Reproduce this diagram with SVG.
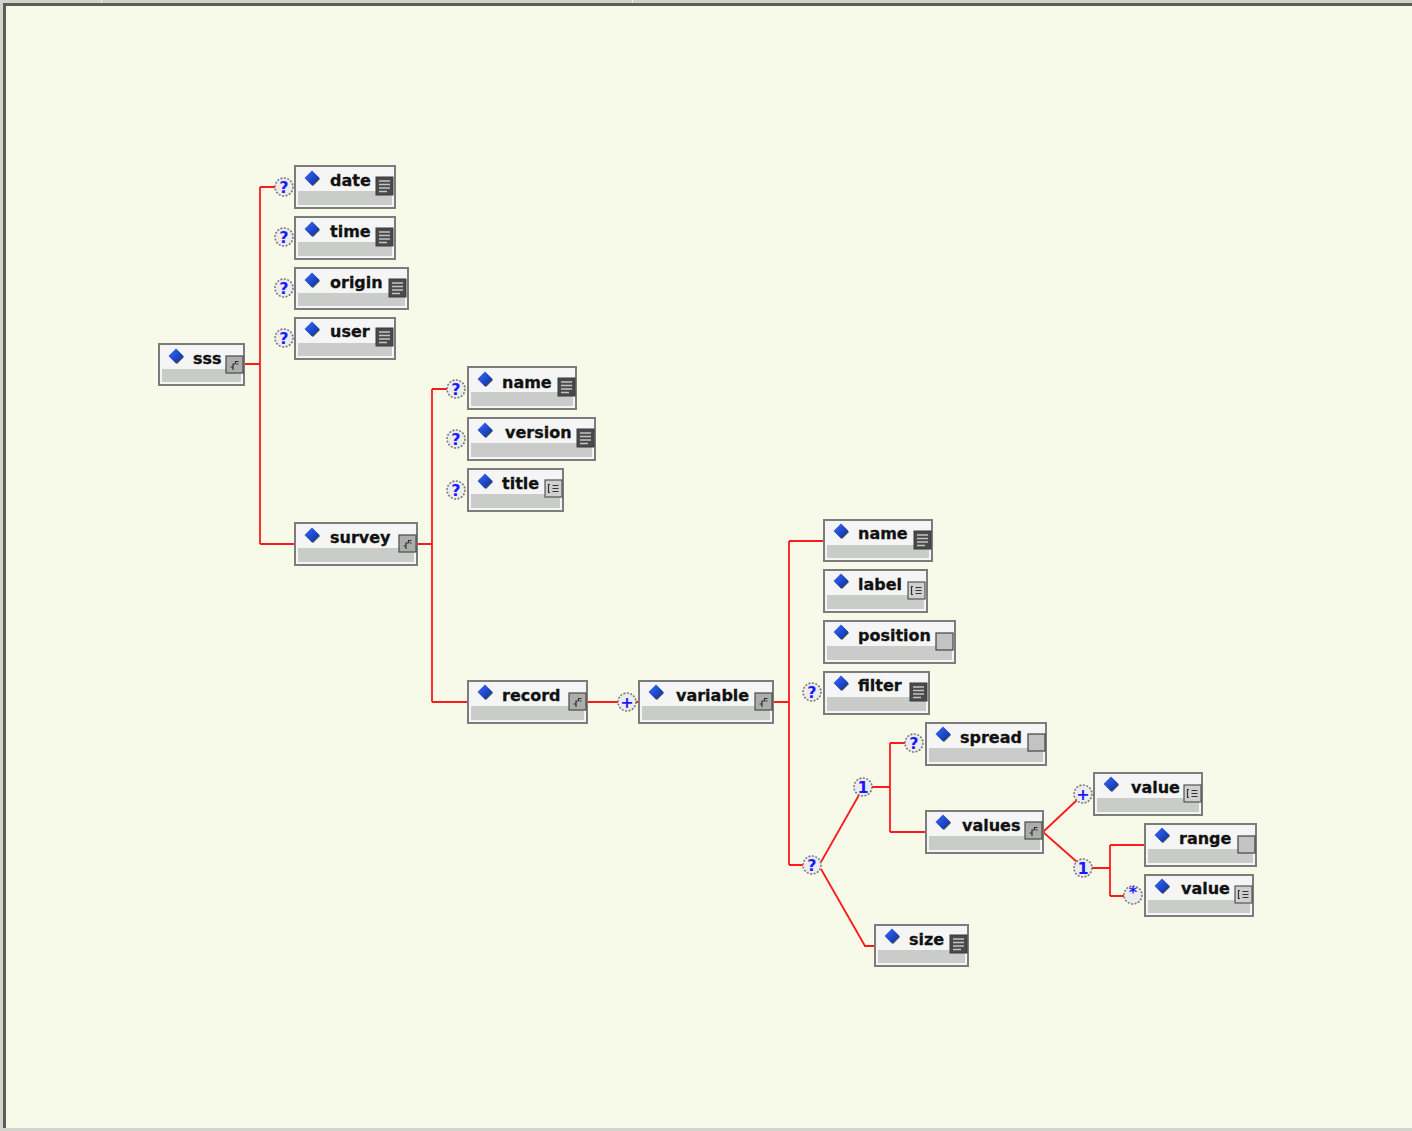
<svg xmlns="http://www.w3.org/2000/svg" width="1412" height="1131" viewBox="0 0 1412 1131">
  <style>
    .frame { fill: #d2d3cc; }
    .canvas { fill: #f8fae9; }
    .edge { fill: none; stroke: #ff1a1a; stroke-width: 1.8; }
    .box { fill: #f4f5f4; stroke: #7b7c7b; stroke-width: 2; }
    .band { fill: #c9ccc9; }
    .lbl { font-family: "DejaVu Sans", "Liberation Sans", sans-serif; font-weight: bold; font-size: 16px; fill: #111; stroke: #111; stroke-width: 0.3; }
    .occ { fill: #ececec; stroke: #7a7a7a; stroke-width: 1.6; stroke-dasharray: 2 1.5; }
    .occt { font-family: "DejaVu Sans", "Liberation Sans", sans-serif; font-weight: bold; font-size: 16px; fill: #1a1aff; text-anchor: middle; }
  </style>
  <defs>
    <linearGradient id="gem" x1="0" y1="0" x2="1" y2="1">
      <stop offset="0" stop-color="#3a6cff"/>
      <stop offset="1" stop-color="#0a2a9a"/>
    </linearGradient>
    <!-- element marker: blue diamond with dark drop shadow -->
    <g id="diamond">
      <path d="M1 -6 L8 1 L1 8 L-6 1 Z" fill="#1b2a1b" opacity="0.8"/>
      <path d="M0 -7.5 L7.5 0 L0 7.5 L-7.5 0 Z" fill="url(#gem)"/>
    </g>
    <!-- simple-content type icon -->
    <g id="ico-simple">
      <rect x="0" y="0" width="17" height="18" fill="#4a4a4a" stroke="#3a3a3a" stroke-width="1"/>
      <path d="M3 4 H14 M3 7.5 H14 M3 11 H14 M3 14.5 H11" stroke="#c4c4c4" stroke-width="1.4"/>
    </g>
    <!-- complex-content (sequence) icon -->
    <g id="ico-complex">
      <rect x="0" y="0" width="17" height="17" fill="#acaeac" stroke="#4a4a4a" stroke-width="1.2"/>
      <path d="M7 14 V8 H9.5 M7 11 H4.5 M9.5 8 V5.5 H12.5" fill="none" stroke="#2e2e2e" stroke-width="1.2"/>
      <path d="M10.5 8 H12.5" stroke="#2e2e2e" stroke-width="1"/>
    </g>
    <!-- list/attribute icon -->
    <g id="ico-list">
      <rect x="0" y="0" width="17" height="17" fill="#cfd0cf" stroke="#555" stroke-width="1.2"/>
      <path d="M5 4.5 H3.5 V12.5 H5" fill="none" stroke="#333" stroke-width="1.2"/>
      <path d="M7.5 5.5 H13.5 M7.5 8.5 H13.5 M7.5 11.5 H13.5" stroke="#333" stroke-width="1.1"/>
    </g>
    <!-- empty-content icon -->
    <g id="ico-empty">
      <rect x="0" y="0" width="17" height="17" fill="#c2c3c2" stroke="#4e4e4e" stroke-width="1.3"/>
    </g>
  </defs>

  <!-- window frame and canvas -->
  <rect class="frame" x="0" y="0" width="1412" height="1131"/>
  <rect class="canvas" x="6" y="6" width="1406" height="1122"/>
  <rect x="3" y="3" width="1409" height="3" fill="#5c5c5a"/>
  <rect x="3" y="3" width="3" height="1125" fill="#5c5c5a"/>
  <rect x="101" y="0" width="1" height="3" fill="#f2f2ee"/>
  <rect x="632" y="0" width="1" height="3" fill="#f2f2ee"/>

  <!-- connectors -->
  <g id="connectors">
    <path class="edge" d="M244 364 H260 M260 187 V544 M260 187 H275 M260 544 H295"/>
    <path class="edge" d="M417 544 H432 M432 389 V702 M432 389 H447 M432 702 H468"/>
    <path class="edge" d="M587 702 H618 M636 702 H639"/>
    <path class="edge" d="M773 702 H789 M789 541 V865 M789 541 H824 M789 865 H803"/>
    <path class="edge" d="M821 862 L859 795 M821 869 L865 946 H875"/>
    <path class="edge" d="M872 787 H890 M890 743 V832 M890 743 H905 M890 832 H926"/>
    <path class="edge" d="M1043 832 L1077 800 M1043 832 L1077 862"/>
    <path class="edge" d="M1092 868 H1110 M1110 845 V896 M1110 845 H1145 M1110 896 H1124"/>
  </g>

  <!-- occurrence indicators -->
  <g id="occurrences">
    <g><circle class="occ" cx="284" cy="187" r="9"/><text class="occt" x="284" y="193">?</text></g>
    <g><circle class="occ" cx="284" cy="237" r="9"/><text class="occt" x="284" y="243">?</text></g>
    <g><circle class="occ" cx="284" cy="288" r="9"/><text class="occt" x="284" y="294">?</text></g>
    <g><circle class="occ" cx="284" cy="338" r="9"/><text class="occt" x="284" y="344">?</text></g>
    <g><circle class="occ" cx="456" cy="389" r="9"/><text class="occt" x="456" y="395">?</text></g>
    <g><circle class="occ" cx="456" cy="439" r="9"/><text class="occt" x="456" y="445">?</text></g>
    <g><circle class="occ" cx="456" cy="490" r="9"/><text class="occt" x="456" y="496">?</text></g>
    <g><circle class="occ" cx="627" cy="702" r="9"/><text class="occt" x="627" y="708">+</text></g>
    <g><circle class="occ" cx="812" cy="692" r="9"/><text class="occt" x="812" y="698">?</text></g>
    <g><circle class="occ" cx="812" cy="865" r="9"/><text class="occt" x="812" y="871">?</text></g>
    <g><circle class="occ" cx="863" cy="787" r="9"/><text class="occt" x="863" y="793">1</text></g>
    <g><circle class="occ" cx="914" cy="743" r="9"/><text class="occt" x="914" y="749">?</text></g>
    <g><circle class="occ" cx="1083" cy="794" r="9"/><text class="occt" x="1083" y="800">+</text></g>
    <g><circle class="occ" cx="1083" cy="868" r="9"/><text class="occt" x="1083" y="874">1</text></g>
    <g><circle class="occ" cx="1133" cy="895" r="9"/><text class="occt" x="1133" y="898">*</text></g>
  </g>

  <!-- element nodes -->
  <g id="node-sss">
    <rect class="box" x="159" y="344" width="85" height="41"/><rect class="band" x="162" y="369" width="79" height="13"/>
    <use href="#diamond" x="176" y="356"/><text class="lbl" x="193" y="364">sss</text>
    <use href="#ico-complex" x="226" y="356"/>
  </g>
  <g id="node-date">
    <rect class="box" x="295" y="166" width="100" height="42"/><rect class="band" x="298" y="191" width="94" height="14"/>
    <use href="#diamond" x="312" y="178"/><text class="lbl" x="330" y="186">date</text>
    <use href="#ico-simple" x="376" y="177"/>
  </g>
  <g id="node-time">
    <rect class="box" x="295" y="217" width="100" height="42"/><rect class="band" x="298" y="242" width="94" height="14"/>
    <use href="#diamond" x="312" y="229"/><text class="lbl" x="330" y="237">time</text>
    <use href="#ico-simple" x="376" y="228"/>
  </g>
  <g id="node-origin">
    <rect class="box" x="295" y="268" width="113" height="41"/><rect class="band" x="298" y="293" width="107" height="13"/>
    <use href="#diamond" x="312" y="280"/><text class="lbl" x="330" y="288">origin</text>
    <use href="#ico-simple" x="389" y="279"/>
  </g>
  <g id="node-user">
    <rect class="box" x="295" y="318" width="100" height="41"/><rect class="band" x="298" y="343" width="94" height="13"/>
    <use href="#diamond" x="312" y="329"/><text class="lbl" x="330" y="337">user</text>
    <use href="#ico-simple" x="376" y="328"/>
  </g>
  <g id="node-survey">
    <rect class="box" x="295" y="523" width="122" height="42"/><rect class="band" x="298" y="548" width="116" height="14"/>
    <use href="#diamond" x="312" y="535"/><text class="lbl" x="330" y="543">survey</text>
    <use href="#ico-complex" x="399" y="535"/>
  </g>
  <g id="node-survey-name">
    <rect class="box" x="468" y="367" width="108" height="42"/><rect class="band" x="471" y="392" width="102" height="14"/>
    <use href="#diamond" x="485" y="379"/><text class="lbl" x="502" y="388">name</text>
    <use href="#ico-simple" x="558" y="378"/>
  </g>
  <g id="node-version">
    <rect class="box" x="468" y="418" width="127" height="42"/><rect class="band" x="471" y="443" width="121" height="14"/>
    <use href="#diamond" x="485" y="430"/><text class="lbl" x="505" y="438">version</text>
    <use href="#ico-simple" x="577" y="429"/>
  </g>
  <g id="node-title">
    <rect class="box" x="468" y="469" width="95" height="42"/><rect class="band" x="471" y="494" width="89" height="14"/>
    <use href="#diamond" x="485" y="481"/><text class="lbl" x="502" y="489">title</text>
    <use href="#ico-list" x="545" y="480"/>
  </g>
  <g id="node-record">
    <rect class="box" x="468" y="681" width="119" height="42"/><rect class="band" x="471" y="706" width="113" height="14"/>
    <use href="#diamond" x="485" y="692"/><text class="lbl" x="502" y="701">record</text>
    <use href="#ico-complex" x="569" y="693"/>
  </g>
  <g id="node-variable">
    <rect class="box" x="639" y="681" width="134" height="42"/><rect class="band" x="642" y="706" width="128" height="14"/>
    <use href="#diamond" x="656" y="692"/><text class="lbl" x="676" y="701">variable</text>
    <use href="#ico-complex" x="755" y="693"/>
  </g>
  <g id="node-variable-name">
    <rect class="box" x="824" y="520" width="108" height="41"/><rect class="band" x="827" y="545" width="102" height="13"/>
    <use href="#diamond" x="841" y="531"/><text class="lbl" x="858" y="539">name</text>
    <use href="#ico-simple" x="914" y="531"/>
  </g>
  <g id="node-label">
    <rect class="box" x="824" y="570" width="103" height="42"/><rect class="band" x="827" y="595" width="97" height="14"/>
    <use href="#diamond" x="841" y="581"/><text class="lbl" x="858" y="590">label</text>
    <use href="#ico-list" x="908" y="582"/>
  </g>
  <g id="node-position">
    <rect class="box" x="824" y="621" width="131" height="42"/><rect class="band" x="827" y="646" width="125" height="14"/>
    <use href="#diamond" x="841" y="632"/><text class="lbl" x="858" y="641">position</text>
    <use href="#ico-empty" x="936" y="633"/>
  </g>
  <g id="node-filter">
    <rect class="box" x="824" y="672" width="105" height="42"/><rect class="band" x="827" y="697" width="99" height="14"/>
    <use href="#diamond" x="841" y="683"/><text class="lbl" x="858" y="691">filter</text>
    <use href="#ico-simple" x="910" y="683"/>
  </g>
  <g id="node-spread">
    <rect class="box" x="926" y="723" width="120" height="42"/><rect class="band" x="929" y="748" width="114" height="14"/>
    <use href="#diamond" x="943" y="734"/><text class="lbl" x="960" y="743">spread</text>
    <use href="#ico-empty" x="1028" y="734"/>
  </g>
  <g id="node-values">
    <rect class="box" x="926" y="811" width="117" height="42"/><rect class="band" x="929" y="836" width="111" height="14"/>
    <use href="#diamond" x="943" y="822"/><text class="lbl" x="962" y="831">values</text>
    <use href="#ico-complex" x="1025" y="822"/>
  </g>
  <g id="node-size">
    <rect class="box" x="875" y="925" width="93" height="41"/><rect class="band" x="878" y="950" width="87" height="13"/>
    <use href="#diamond" x="892" y="936"/><text class="lbl" x="909" y="945">size</text>
    <use href="#ico-simple" x="950" y="935"/>
  </g>
  <g id="node-values-value">
    <rect class="box" x="1094" y="773" width="108" height="42"/><rect class="band" x="1097" y="798" width="102" height="14"/>
    <use href="#diamond" x="1111" y="784"/><text class="lbl" x="1131" y="793">value</text>
    <use href="#ico-list" x="1184" y="785"/>
  </g>
  <g id="node-range">
    <rect class="box" x="1145" y="824" width="111" height="42"/><rect class="band" x="1148" y="849" width="105" height="14"/>
    <use href="#diamond" x="1162" y="835"/><text class="lbl" x="1179" y="844">range</text>
    <use href="#ico-empty" x="1238" y="836"/>
  </g>
  <g id="node-range-value">
    <rect class="box" x="1145" y="875" width="108" height="41"/><rect class="band" x="1148" y="900" width="102" height="13"/>
    <use href="#diamond" x="1162" y="886"/><text class="lbl" x="1181" y="894">value</text>
    <use href="#ico-list" x="1235" y="886"/>
  </g>
</svg>
